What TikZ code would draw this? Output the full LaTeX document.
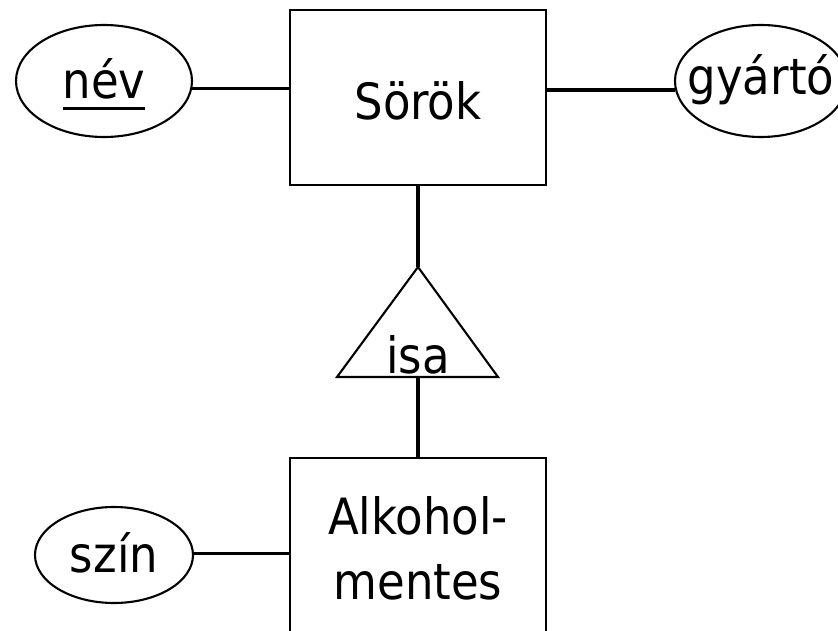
\documentclass[tikz,border=0pt]{standalone}
\usepackage{fontspec}
\setmainfont{DejaVu Sans Condensed}
\usetikzlibrary{shapes.geometric,calc}
\newcommand\ctext[1]{\makebox[0pt]{#1}}
\newcommand\myul[1]{\setbox0\hbox{#1}\rlap{\rule[-11.5pt]{\wd0}{3pt}}\box0}
\tikzset{
  bigfont/.style={font=\fontsize{50}{65}\selectfont},
  entbox/.style={draw, line width=2.8pt, rectangle, bigfont, inner sep=0pt,
    minimum width=256pt, align=center},
  attr/.style={draw, line width=2.1pt, ellipse, bigfont, inner sep=0pt, text depth=0pt},
  conn/.style={line width=3.1pt},
}
\begin{document}
\begin{tikzpicture}[x=1pt,y=1pt]
\useasboundingbox (0,0) rectangle (838,630);
% entities
\node[entbox, minimum height=175pt, text height=45pt, text depth=1pt] (sorok) at (418,532.5) {Sörök};
\node[entbox, minimum height=180pt] (alk) at (418,82) {Alkohol-\\mentes};
% attributes
\node[attr, minimum width=176pt, minimum height=112pt, text height=36pt] (nev) at (104,549) {\ctext{\myul{név}}};
\node[attr, minimum width=172pt, minimum height=112pt, text height=28pt] (gyarto) at (761,549) {\ctext{gyártó}};
\node[attr, minimum width=158pt, minimum height=96pt, text height=34pt] (szin) at (114,75) {\ctext{szín}};
% isa triangle
\coordinate (isatop) at (418,363);
\coordinate (isaleft) at (337,253);
\coordinate (isaright) at (498,253);
\coordinate (isabot) at (418,253);
\draw[line width=2.1pt, line join=miter] (isaleft) -- (isatop) -- (isaright) -- cycle;
\node[bigfont, anchor=base, inner sep=0pt] (isa) at (418,257) {isa};
% connectors
\draw[conn] (nev.-5.25) -- (nev.-5.25 -| sorok.west);
\draw[conn] (gyarto.186) -- (gyarto.186 -| sorok.east);
\draw[conn] (szin.1.5) -- (szin.1.5 -| alk.west);
\draw[conn] (sorok.south) -- (isatop);
\draw[conn] (isabot) -- (alk.north);
\end{tikzpicture}
\end{document}
